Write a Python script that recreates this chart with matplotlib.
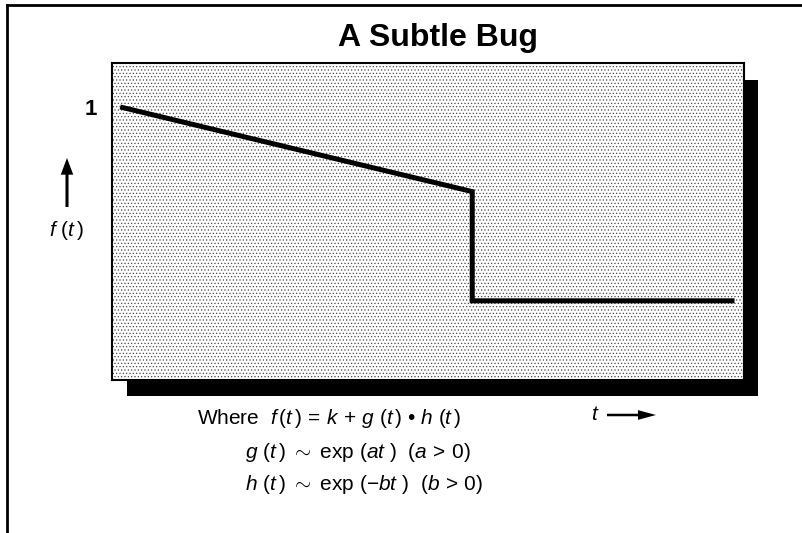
import matplotlib
matplotlib.use('Agg')
import matplotlib.pyplot as plt
from matplotlib.patches import Rectangle, FancyArrowPatch
from matplotlib.lines import Line2D

# data
t_vals = [0.013, 0.57, 0.57, 0.985]
f_vals = [1.0, 0.69, 0.29, 0.29]
y_ticks = [1.0]
y_ticklabels = ['1']

title = 'A Subtle Bug'
ylabel = r'$f\ (t\,)$'
xlabel = r'$t$'
notes = [
    r'Where  $f\,(t\,)\,=\,k\,+\,g\ (t\,)$ • $h\ (t\,)$',
    r'$g\ (t\,)\ \sim\ \mathrm{exp}\ (at\ )\ \ (a\,>\,0)$',
    r'$h\ (t\,)\ \sim\ \mathrm{exp}\ (\mathrm{-}bt\ )\ \ (b\,>\,0)$',
]

W, H = 802, 533


def fx(px):
    return px / W


def fy(py):
    return 1 - py / H


plt.rcParams['font.family'] = ['Liberation Sans', 'DejaVu Sans']
plt.rcParams['mathtext.fontset'] = 'custom'
plt.rcParams['mathtext.rm'] = 'Liberation Sans'
plt.rcParams['mathtext.it'] = 'Liberation Sans:italic'
plt.rcParams['mathtext.bf'] = 'Liberation Sans:bold'
plt.rcParams['hatch.linewidth'] = 0.5

fig = plt.figure(figsize=(8.02, 5.33), dpi=100)

# outer frame (left + top only)
fig.add_artist(Line2D([fx(7), fx(7)], [fy(5), fy(533)], color='black', lw=2.0))
fig.add_artist(Line2D([fx(7), 1], [fy(5), fy(5)], color='black', lw=2.0))

# drop shadow behind the plot box
fig.add_artist(Rectangle((fx(127), fy(396)), fx(758) - fx(127), fy(80) - fy(396),
                         facecolor='black', edgecolor='none', zorder=-1))

ax = fig.add_axes([fx(112), fy(380), fx(744) - fx(112), fy(63) - fy(380)])
ax.set_facecolor('white')
# stippled background
ax.add_patch(Rectangle((0, 0), 1, 1, transform=ax.transAxes, facecolor='white',
                       edgecolor='#4a4a4a', hatch='.....', lw=0, zorder=0))

ax.plot(t_vals, f_vals, color='black', lw=3.6, solid_joinstyle='miter',
        solid_capstyle='butt', zorder=3)

ax.set_xlim(0, 1)
ax.set_ylim(0, 1.161)
ax.set_xticks([])
ax.set_yticks(y_ticks)
ax.set_yticklabels(y_ticklabels, fontweight='bold')
ax.tick_params(axis='y', length=0, pad=11, labelsize=16)
for s in ax.spines.values():
    s.set_linewidth(1.5)
    s.set_zorder(4)

fig.text(fx(438), fy(46), title, ha='center', va='baseline', fontsize=23, fontweight='bold')

# y label with up arrow
fig.add_artist(FancyArrowPatch((fx(67), fy(207)), (fx(67), fy(158)),
                               transform=fig.transFigure,
                               arrowstyle='simple,head_length=1.2,head_width=0.9,tail_width=0.22',
                               mutation_scale=10, color='black', lw=0,
                               shrinkA=0, shrinkB=0))
fig.text(fx(66), fy(230), ylabel, ha='center', va='center', fontsize=15)

# x label with right arrow
fig.text(fx(595), fy(415), xlabel, ha='center', va='center', fontsize=15)
fig.add_artist(FancyArrowPatch((fx(607), fy(415)), (fx(656), fy(415)),
                               transform=fig.transFigure,
                               arrowstyle='simple,head_length=1.3,head_width=0.7,tail_width=0.18',
                               mutation_scale=10, color='black', lw=0,
                               shrinkA=0, shrinkB=0))

fig.text(fx(197), fy(419), notes[0], ha='left', va='center', fontsize=15)
fig.text(fx(245), fy(453), notes[1], ha='left', va='center', fontsize=15)
fig.text(fx(245), fy(484), notes[2], ha='left', va='center', fontsize=15)

fig.savefig('out.png', dpi=100)
